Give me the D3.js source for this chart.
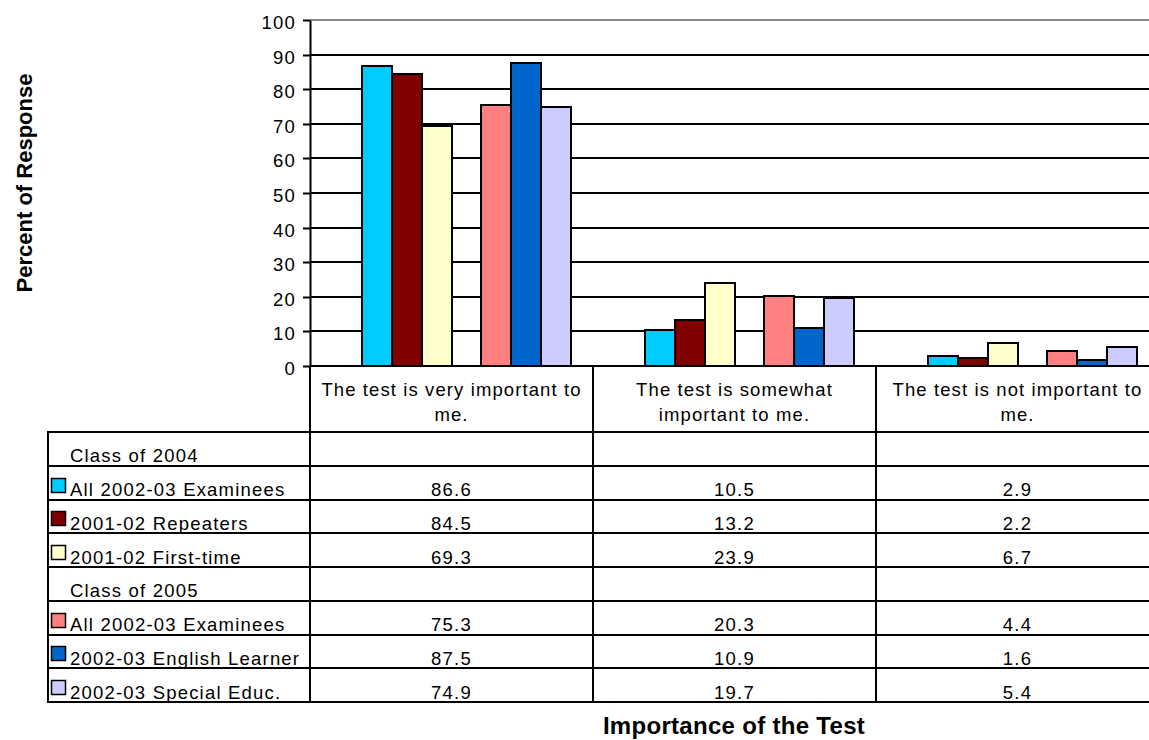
<!DOCTYPE html>
<html>
<head>
<meta charset="utf-8">
<script src="https://cdn.jsdelivr.net/npm/d3@7"></script>
<style>
	body { margin: 0; background: #fff; }
	text { font-family: "Liberation Sans", Arial, sans-serif; fill: #000; }
</style>
</head>
<body>
<script>
// dati
var categories = ["The test is very important to me.", "The test is somewhat important to me.", "The test is not important to me."];
var all2004 = [86.6, 10.5, 2.9];
var repeaters2004 = [84.5, 13.2, 2.2];
var firstTime2004 = [69.3, 23.9, 6.7];
var all2005 = [75.3, 20.3, 4.4];
var englishLearner2005 = [87.5, 10.9, 1.6];
var specialEduc2005 = [74.9, 19.7, 5.4];
var yTicks = [0, 10, 20, 30, 40, 50, 60, 70, 80, 90, 100];

// le righe "Class of ..." sono serie vuote, come nel foglio originale
var series = [
	{name: "Class of 2004", values: null},
	{name: "All 2002-03 Examinees", values: all2004},
	{name: "2001-02 Repeaters", values: repeaters2004},
	{name: "2001-02 First-time", values: firstTime2004},
	{name: "Class of 2005", values: null},
	{name: "All 2002-03 Examinees", values: all2005},
	{name: "2002-03 English Learner", values: englishLearner2005},
	{name: "2002-03 Special Educ.", values: specialEduc2005}
];
var colors = [null, "#00CCFF", "#800000", "#FFFFCC", null, "#FF8080", "#0066CC", "#CCCCFF"];

var width = 1149;
var height = 740;
var plotLeft = 310, plotTop = 20, plotBottom = 366;
var catWidth = 283;
var tableLeft = 48, headerBottom = 432, tableBottom = 702;
var plotRight = plotLeft + catWidth * categories.length;
var fontSize = 18.5;

var svg = d3.select("body").append("svg")
	.attr("width", width)
	.attr("height", height);

var x0 = d3.scaleBand().domain(categories).range([plotLeft, plotRight]).padding(0);
var x1 = d3.scaleBand().domain(d3.range(series.length)).range([0, x0.bandwidth()]).paddingInner(0).paddingOuter(0.72);
var y = d3.scaleLinear().domain([0, 100]).rangeRound([plotBottom, plotTop]);
var rows = d3.scaleBand().domain(d3.range(series.length)).range([headerBottom, tableBottom]);

//griglia
svg.selectAll("line.grid")
	.data(yTicks.filter(function (d) { return d > 0; }))
	.enter()
	.append("line")
	.attr("class", "grid")
	.attr("x1", plotLeft)
	.attr("x2", plotRight)
	.attr("y1", function (d) { return y(d); })
	.attr("y2", function (d) { return y(d); })
	.attr("stroke", function (d) { return d === 100 ? "#888" : "#000"; })
	.attr("stroke-width", 2);

//asse y
var yAxis = svg.append("g")
	.attr("transform", "translate(" + plotLeft + ",0)")
	.call(d3.axisLeft(y).tickValues(yTicks).tickSize(7).tickPadding(7).tickSizeOuter(0));
yAxis.select(".domain").attr("stroke", "#000").attr("stroke-width", 2);
yAxis.selectAll(".tick line").attr("stroke", "#000").attr("stroke-width", 2);
yAxis.selectAll(".tick text")
	.attr("dy", "0.45em")
	.style("font-size", fontSize + "px")
	.style("letter-spacing", "1.2px")
	.style("font-family", "\"Liberation Sans\", Arial, sans-serif")
	.attr("fill", "#000");

//barre
series.forEach(function (s, i) {
	if (!s.values) return;
	svg.selectAll("rect.s" + i)
		.data(s.values)
		.enter()
		.append("rect")
		.attr("class", "s" + i)
		.attr("x", function (d, j) { return Math.round(x0(categories[j]) + x1(i)); })
		.attr("y", function (d) { return y(d); })
		.attr("width", Math.round(x1.bandwidth()))
		.attr("height", function (d) { return y(0) - y(d); })
		.attr("fill", colors[i])
		.attr("stroke", "#000")
		.attr("stroke-width", 2);
});

//linea dello zero
svg.append("line")
	.attr("x1", plotLeft).attr("x2", plotRight)
	.attr("y1", y(0)).attr("y2", y(0))
	.attr("stroke", "#000").attr("stroke-width", 2);

//tabella: linee orizzontali
var hLines = d3.range(series.length + 1).map(function (i) { return Math.round(headerBottom + i * rows.bandwidth()); });
svg.selectAll("line.hrow")
	.data(hLines)
	.enter()
	.append("line")
	.attr("x1", tableLeft).attr("x2", plotRight)
	.attr("y1", function (d) { return d; })
	.attr("y2", function (d) { return d; })
	.attr("stroke", "#000").attr("stroke-width", 2);

//tabella: linee verticali
svg.append("line")
	.attr("x1", tableLeft).attr("x2", tableLeft)
	.attr("y1", headerBottom - 1).attr("y2", tableBottom + 1)
	.attr("stroke", "#000").attr("stroke-width", 2);
svg.selectAll("line.vcol")
	.data([plotLeft].concat(categories.map(function (c) { return x0(c) + x0.bandwidth(); })))
	.enter()
	.append("line")
	.attr("x1", function (d) { return d; })
	.attr("x2", function (d) { return d; })
	.attr("y1", plotBottom).attr("y2", tableBottom + 1)
	.attr("stroke", "#000").attr("stroke-width", 2);

//etichette delle categorie (a capo)
function wrap(textSel, maxWidth) {
	textSel.each(function (d) {
		var t = d3.select(this);
		var words = d.split(" ");
		var line = [];
		var tspan = t.append("tspan").attr("x", t.attr("x")).attr("dy", 0);
		words.forEach(function (w) {
			line.push(w);
			tspan.text(line.join(" "));
			if (tspan.node().getComputedTextLength() > maxWidth && line.length > 1) {
				line.pop();
				tspan.text(line.join(" "));
				line = [w];
				tspan = t.append("tspan").attr("x", t.attr("x")).attr("dy", 24.5).text(w);
			}
		});
	});
}

svg.selectAll("text.cat")
	.data(categories)
	.enter()
	.append("text")
	.attr("class", "cat")
	.attr("x", function (d) { return x0(d) + x0.bandwidth() / 2; })
	.attr("y", 396)
	.attr("text-anchor", "middle")
	.style("font-size", fontSize + "px")
	.style("letter-spacing", "1.1px")
	.call(wrap, 272);

//legenda nella tabella
svg.selectAll("rect.key")
	.data(series.filter(function (s) { return s.values; }))
	.enter()
	.append("rect")
	.attr("class", "key")
	.attr("x", 51.5)
	.attr("y", function (d) { return Math.round(rows(series.indexOf(d)) + rows.bandwidth()) - 21.5; })
	.attr("width", 14)
	.attr("height", 14)
	.attr("fill", function (d) { return colors[series.indexOf(d)]; })
	.attr("stroke", "#000")
	.attr("stroke-width", 1.5);

svg.selectAll("text.rowname")
	.data(series)
	.enter()
	.append("text")
	.attr("class", "rowname")
	.attr("x", 70)
	.attr("y", function (d, i) { return rows(i) + rows.bandwidth() - 3.5; })
	.style("font-size", fontSize + "px")
	.style("letter-spacing", "1.2px")
	.text(function (d) { return d.name; });

//valori della tabella
series.forEach(function (s, i) {
	if (!s.values) return;
	svg.selectAll("text.v" + i)
		.data(s.values)
		.enter()
		.append("text")
		.attr("class", "v" + i)
		.attr("x", function (d, j) { return x0(categories[j]) + x0.bandwidth() / 2; })
		.attr("y", rows(i) + rows.bandwidth() - 3.5)
		.attr("text-anchor", "middle")
		.style("font-size", fontSize + "px")
		.style("letter-spacing", "1.2px")
		.text(function (d) { return d.toFixed(1); });
});

//titoli
svg.append("text")
	.attr("transform", "translate(32,183) rotate(-90)")
	.attr("text-anchor", "middle")
	.style("font-size", "22px")
	.style("font-weight", "bold")
	.text("Percent of Response");

svg.append("text")
	.attr("x", 734)
	.attr("y", 734)
	.attr("text-anchor", "middle")
	.style("font-size", "24px")
	.style("font-weight", "bold")
	.style("letter-spacing", "0.3px")
	.text("Importance of the Test");
</script>
</body>
</html>
